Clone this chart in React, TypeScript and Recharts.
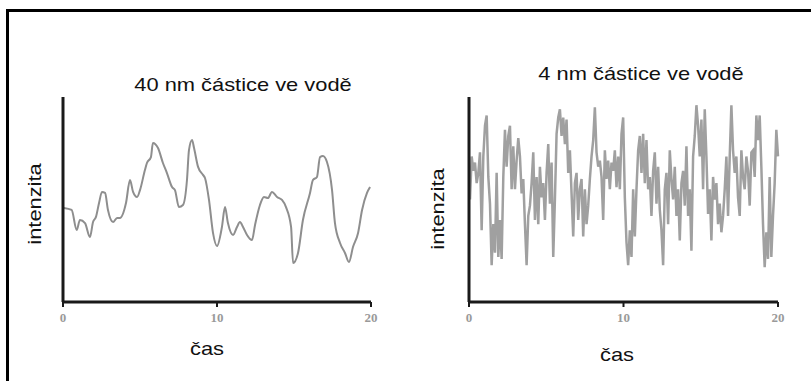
import React from 'react';
import { LineChart, Line, XAxis, YAxis } from 'recharts';

// 40 nm particles: slow fluctuation (time, intensity)
const slowTime = [
  0.06, 0.56, 0.89, 1.1, 1.43, 1.75, 1.95, 2.14, 2.34, 2.53, 2.73, 2.92, 3.25, 3.51, 3.7, 4.09,
  4.35, 4.55, 4.81, 5.0, 5.32, 5.45, 5.71, 5.84, 6.17, 6.49, 6.75, 7.08, 7.27, 7.53, 7.79, 8.05,
  8.18, 8.38, 8.51, 8.77, 9.09, 9.22, 9.48, 9.74, 10.0, 10.32, 10.52, 10.71, 11.04, 11.3, 11.49,
  11.69, 11.95, 12.27, 12.47, 12.79, 13.05, 13.31, 13.57, 13.9, 14.22, 14.48, 14.81, 14.94, 15.26,
  15.58, 16.04, 16.23, 16.49, 16.69, 16.88, 17.14, 17.47, 17.66, 17.99, 18.31, 18.57, 18.83, 19.16,
  19.42, 19.74, 19.94,
];
const slowIntensity = [
  45.9, 44.9, 35.1, 40.0, 38.5, 31.7, 39.0, 41.5, 48.3, 53.7, 53.2, 44.9, 39.0, 41.0, 41.0, 48.3,
  59.5, 53.7, 51.2, 54.6, 64.4, 67.8, 70.7, 77.6, 75.1, 67.8, 62.9, 56.1, 54.6, 46.3, 47.3, 59.5,
  74.1, 79.0, 75.1, 65.9, 62.0, 60.5, 49.8, 33.7, 27.3, 36.6, 46.3, 38.5, 32.7, 36.6, 39.0, 36.6,
  32.7, 30.2, 37.6, 47.3, 51.2, 50.7, 53.7, 51.2, 49.8, 46.3, 36.6, 19.0, 23.9, 40.0, 53.2, 59.5,
  61.0, 70.7, 71.2, 68.3, 54.6, 38.5, 28.8, 23.9, 19.5, 26.8, 33.7, 44.9, 53.2, 56.1, 62.9,
];

// 4 nm particles: fast fluctuation, evenly spaced samples from t≈0.07 to t=20
const fastIntensity = [
  50, 71, 64, 68, 58, 63, 73, 35, 71, 86, 91, 61, 48, 18, 38, 24, 63, 22, 40, 21, 61, 84, 66, 81,
  86, 55, 76, 55, 69, 80, 71, 53, 60, 38, 18, 42, 47, 58, 73, 40, 61, 38, 66, 51, 58, 40, 63, 77,
  48, 68, 22, 50, 82, 90, 94, 81, 90, 77, 89, 63, 74, 53, 32, 58, 63, 40, 55, 60, 32, 55, 38, 47,
  60, 71, 79, 95, 73, 66, 69, 61, 40, 74, 60, 69, 55, 68, 64, 74, 56, 71, 55, 82, 90, 51, 29, 18,
  35, 22, 55, 32, 55, 74, 81, 63, 82, 58, 79, 55, 61, 42, 64, 73, 48, 66, 45, 35, 18, 55, 63, 38,
  74, 60, 50, 66, 42, 55, 30, 58, 64, 47, 76, 42, 55, 25, 71, 81, 96, 86, 71, 89, 55, 94, 71, 43,
  55, 30, 61, 50, 58, 38, 48, 34, 42, 55, 71, 42, 71, 96, 74, 63, 71, 51, 42, 74, 61, 55, 71, 64,
  47, 73, 74, 61, 91, 79, 91, 66, 38, 17, 34, 21, 61, 22, 42, 58, 84, 71,
];

const xTicks = [0, 10, 20];

const slowData = slowTime.map((t, i) => ({ t, v: slowIntensity[i] }));
const fastStep = (20 - 0.065) / (fastIntensity.length - 1);
const fastData = fastIntensity.map((v, i) => ({ t: 0.065 + i * fastStep, v }));

const sans = '"Liberation Sans", Arial, sans-serif';

const tickStyle = {
  fill: '#9a9a9a',
  fontSize: 13,
  fontWeight: 'bold' as const,
  fontFamily: '"Liberation Serif", serif',
};

function Trace({ data, stroke, curve, strokeWidth, left, width, marginLeft, marginRight }: {
  data: { t: number; v: number }[];
  stroke: string;
  curve: 'monotone' | 'linear';
  strokeWidth: number;
  left: number;
  width: number;
  marginLeft: number;
  marginRight: number;
}) {
  return (
    <div style={{ position: 'absolute', left, top: 0 }}>
      <LineChart
        width={width}
        height={381}
        data={data}
        margin={{ top: 97, right: marginRight, bottom: 49, left: marginLeft - 1 }}
      >
        <XAxis
          type="number"
          dataKey="t"
          domain={[0, 20]}
          ticks={xTicks}
          height={30}
          axisLine={{ stroke: '#1a1a1a', strokeWidth: 3 }}
          tickLine={{ stroke: '#1a1a1a', strokeWidth: 2 }}
          tickSize={5}
          tickMargin={6}
          tick={tickStyle}
        />
        <YAxis
          domain={[0, 100]}
          width={1}
          tick={false}
          tickLine={false}
          axisLine={{ stroke: '#1a1a1a', strokeWidth: 3 }}
        />
        <Line
          type={curve}
          dataKey="v"
          stroke={stroke}
          strokeWidth={strokeWidth}
          dot={false}
          isAnimationActive={false}
        />
      </LineChart>
    </div>
  );
}

function Text({ x, y, children, rotate = false }: {
  x: number; y: number; children: React.ReactNode; rotate?: boolean;
}) {
  return (
    <div
      style={{
        position: 'absolute',
        left: x,
        top: y,
        transform: `translate(-50%, -50%)${rotate ? ' rotate(-90deg)' : ''} scaleX(1.15)`,
        whiteSpace: 'nowrap',
        fontFamily: sans,
        fontSize: 19,
        color: '#111',
      }}
    >
      {children}
    </div>
  );
}

export default function App() {
  return (
    <div style={{ position: 'absolute', left: 0, top: 0, width: 811, height: 381, overflow: 'hidden', background: '#fff' }}>
      <div
        style={{
          position: 'absolute',
          left: 6,
          top: 9,
          width: 820,
          height: 400,
          borderTop: '3px solid #000',
          borderLeft: '3px solid #000',
        }}
      />
      <Trace data={slowData} stroke="#8e8e8e" curve="monotone" strokeWidth={2} left={0} width={400} marginLeft={63} marginRight={29} />
      <Trace data={fastData} stroke="#a0a0a0" curve="linear" strokeWidth={2.5} left={400} width={411} marginLeft={69} marginRight={33} />
      <Text x={243} y={85}>40 nm částice ve vodě</Text>
      <Text x={641} y={74}>4 nm částice ve vodě</Text>
      <Text x={35} y={204} rotate>intenzita</Text>
      <Text x={438} y={209} rotate>intenzita</Text>
      <Text x={207} y={349}>čas</Text>
      <Text x={617} y={355}>čas</Text>
    </div>
  );
}
